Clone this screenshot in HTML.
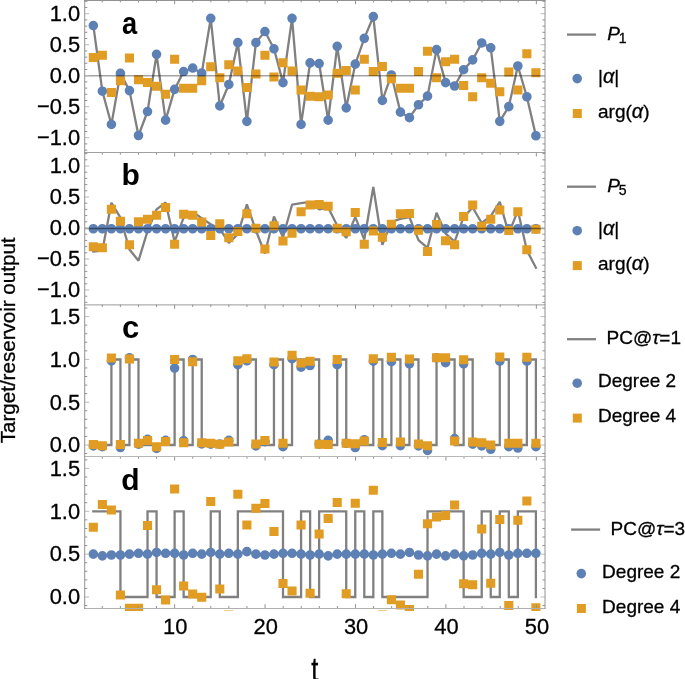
<!DOCTYPE html><html><head><meta charset="utf-8"><style>html,body{margin:0;padding:0;background:#fff;width:685px;height:679px;overflow:hidden}svg{display:block;will-change:transform}</style></head><body><svg width="685" height="679" viewBox="0 0 685 679">
<style>text{font-family:"Liberation Sans",sans-serif;fill:#000;stroke:#000;stroke-width:0.3px}.pl{stroke-width:0}.tl{font-size:22.9px}.lg{font-size:19px}.pl{font-size:31px;font-weight:bold}</style>
<rect width="685" height="679" fill="#fff"/>
<clipPath id="ca"><rect x="84.5" y="-2.50" width="461" height="157.30"/></clipPath>
<g clip-path="url(#ca)">
<polyline points="93.33,25.54 102.36,91.22 111.40,124.44 120.43,73.39 129.46,90.61 138.49,135.50 147.52,111.52 156.56,54.32 165.59,120.13 174.62,89.38 183.65,71.54 192.68,68.04 201.72,73.14 210.75,18.35 219.78,105.98 228.81,84.46 237.84,42.64 246.88,121.36 255.91,42.64 264.94,31.57 273.97,48.79 283.00,82.61 292.04,18.35 301.07,124.44 310.10,62.93 319.13,63.55 328.16,120.13 337.20,46.33 346.23,107.83 355.26,64.16 364.29,38.33 373.32,16.56 382.36,100.45 391.39,74.93 400.42,112.13 409.45,117.67 418.48,104.75 427.52,96.14 436.55,49.65 445.58,82.61 454.61,86.00 463.64,69.70 472.68,59.86 481.71,42.95 490.74,47.87 499.77,121.36 508.80,106.60 517.84,66.01 526.87,96.76 535.90,135.75" fill="none" stroke="#808080" stroke-width="2.3" stroke-linejoin="bevel" stroke-linecap="square" />
<path d="M88.53,25.54a4.80,4.80 0 1,0 9.60,0a4.80,4.80 0 1,0 -9.60,0ZM97.56,91.22a4.80,4.80 0 1,0 9.60,0a4.80,4.80 0 1,0 -9.60,0ZM106.60,124.44a4.80,4.80 0 1,0 9.60,0a4.80,4.80 0 1,0 -9.60,0ZM115.63,73.39a4.80,4.80 0 1,0 9.60,0a4.80,4.80 0 1,0 -9.60,0ZM124.66,90.61a4.80,4.80 0 1,0 9.60,0a4.80,4.80 0 1,0 -9.60,0ZM133.69,135.50a4.80,4.80 0 1,0 9.60,0a4.80,4.80 0 1,0 -9.60,0ZM142.72,111.52a4.80,4.80 0 1,0 9.60,0a4.80,4.80 0 1,0 -9.60,0ZM151.76,54.32a4.80,4.80 0 1,0 9.60,0a4.80,4.80 0 1,0 -9.60,0ZM160.79,120.13a4.80,4.80 0 1,0 9.60,0a4.80,4.80 0 1,0 -9.60,0ZM169.82,89.38a4.80,4.80 0 1,0 9.60,0a4.80,4.80 0 1,0 -9.60,0ZM178.85,71.54a4.80,4.80 0 1,0 9.60,0a4.80,4.80 0 1,0 -9.60,0ZM187.88,68.04a4.80,4.80 0 1,0 9.60,0a4.80,4.80 0 1,0 -9.60,0ZM196.92,73.14a4.80,4.80 0 1,0 9.60,0a4.80,4.80 0 1,0 -9.60,0ZM205.95,18.35a4.80,4.80 0 1,0 9.60,0a4.80,4.80 0 1,0 -9.60,0ZM214.98,105.98a4.80,4.80 0 1,0 9.60,0a4.80,4.80 0 1,0 -9.60,0ZM224.01,84.46a4.80,4.80 0 1,0 9.60,0a4.80,4.80 0 1,0 -9.60,0ZM233.04,42.64a4.80,4.80 0 1,0 9.60,0a4.80,4.80 0 1,0 -9.60,0ZM242.08,121.36a4.80,4.80 0 1,0 9.60,0a4.80,4.80 0 1,0 -9.60,0ZM251.11,42.64a4.80,4.80 0 1,0 9.60,0a4.80,4.80 0 1,0 -9.60,0ZM260.14,31.57a4.80,4.80 0 1,0 9.60,0a4.80,4.80 0 1,0 -9.60,0ZM269.17,48.79a4.80,4.80 0 1,0 9.60,0a4.80,4.80 0 1,0 -9.60,0ZM278.20,82.61a4.80,4.80 0 1,0 9.60,0a4.80,4.80 0 1,0 -9.60,0ZM287.24,18.35a4.80,4.80 0 1,0 9.60,0a4.80,4.80 0 1,0 -9.60,0ZM296.27,124.44a4.80,4.80 0 1,0 9.60,0a4.80,4.80 0 1,0 -9.60,0ZM305.30,62.93a4.80,4.80 0 1,0 9.60,0a4.80,4.80 0 1,0 -9.60,0ZM314.33,63.55a4.80,4.80 0 1,0 9.60,0a4.80,4.80 0 1,0 -9.60,0ZM323.36,120.13a4.80,4.80 0 1,0 9.60,0a4.80,4.80 0 1,0 -9.60,0ZM332.40,46.33a4.80,4.80 0 1,0 9.60,0a4.80,4.80 0 1,0 -9.60,0ZM341.43,107.83a4.80,4.80 0 1,0 9.60,0a4.80,4.80 0 1,0 -9.60,0ZM350.46,64.16a4.80,4.80 0 1,0 9.60,0a4.80,4.80 0 1,0 -9.60,0ZM359.49,38.33a4.80,4.80 0 1,0 9.60,0a4.80,4.80 0 1,0 -9.60,0ZM368.52,16.56a4.80,4.80 0 1,0 9.60,0a4.80,4.80 0 1,0 -9.60,0ZM377.56,100.45a4.80,4.80 0 1,0 9.60,0a4.80,4.80 0 1,0 -9.60,0ZM386.59,74.93a4.80,4.80 0 1,0 9.60,0a4.80,4.80 0 1,0 -9.60,0ZM395.62,112.13a4.80,4.80 0 1,0 9.60,0a4.80,4.80 0 1,0 -9.60,0ZM404.65,117.67a4.80,4.80 0 1,0 9.60,0a4.80,4.80 0 1,0 -9.60,0ZM413.68,104.75a4.80,4.80 0 1,0 9.60,0a4.80,4.80 0 1,0 -9.60,0ZM422.72,96.14a4.80,4.80 0 1,0 9.60,0a4.80,4.80 0 1,0 -9.60,0ZM431.75,49.65a4.80,4.80 0 1,0 9.60,0a4.80,4.80 0 1,0 -9.60,0ZM440.78,82.61a4.80,4.80 0 1,0 9.60,0a4.80,4.80 0 1,0 -9.60,0ZM449.81,86.00a4.80,4.80 0 1,0 9.60,0a4.80,4.80 0 1,0 -9.60,0ZM458.84,69.70a4.80,4.80 0 1,0 9.60,0a4.80,4.80 0 1,0 -9.60,0ZM467.88,59.86a4.80,4.80 0 1,0 9.60,0a4.80,4.80 0 1,0 -9.60,0ZM476.91,42.95a4.80,4.80 0 1,0 9.60,0a4.80,4.80 0 1,0 -9.60,0ZM485.94,47.87a4.80,4.80 0 1,0 9.60,0a4.80,4.80 0 1,0 -9.60,0ZM494.97,121.36a4.80,4.80 0 1,0 9.60,0a4.80,4.80 0 1,0 -9.60,0ZM504.00,106.60a4.80,4.80 0 1,0 9.60,0a4.80,4.80 0 1,0 -9.60,0ZM513.04,66.01a4.80,4.80 0 1,0 9.60,0a4.80,4.80 0 1,0 -9.60,0ZM522.07,96.76a4.80,4.80 0 1,0 9.60,0a4.80,4.80 0 1,0 -9.60,0ZM531.10,135.75a4.80,4.80 0 1,0 9.60,0a4.80,4.80 0 1,0 -9.60,0Z" fill="#5e81b5"/>
<path d="M88.77,52.90h9.12v9.00h-9.12ZM97.80,50.75h9.12v9.00h-9.12ZM106.84,87.95h9.12v9.00h-9.12ZM115.87,76.27h9.12v9.00h-9.12ZM124.90,53.52h9.12v9.00h-9.12ZM133.93,75.35h9.12v9.00h-9.12ZM142.96,78.11h9.12v9.00h-9.12ZM152.00,81.80h9.12v9.00h-9.12ZM161.03,89.80h9.12v9.00h-9.12ZM170.06,54.74h9.12v9.00h-9.12ZM179.09,83.65h9.12v9.00h-9.12ZM188.12,83.65h9.12v9.00h-9.12ZM197.16,76.27h9.12v9.00h-9.12ZM206.19,62.37h9.12v9.00h-9.12ZM215.22,73.19h9.12v9.00h-9.12ZM224.25,60.28h9.12v9.00h-9.12ZM233.28,66.43h9.12v9.00h-9.12ZM242.32,83.03h9.12v9.00h-9.12ZM251.35,69.50h9.12v9.00h-9.12ZM260.38,50.75h9.12v9.00h-9.12ZM269.41,72.58h9.12v9.00h-9.12ZM278.44,58.13h9.12v9.00h-9.12ZM287.48,66.43h9.12v9.00h-9.12ZM296.51,85.49h9.12v9.00h-9.12ZM305.54,91.64h9.12v9.00h-9.12ZM314.57,92.26h9.12v9.00h-9.12ZM323.60,90.41h9.12v9.00h-9.12ZM332.64,68.64h9.12v9.00h-9.12ZM341.67,65.94h9.12v9.00h-9.12ZM350.70,85.49h9.12v9.00h-9.12ZM359.73,54.74h9.12v9.00h-9.12ZM368.76,67.04h9.12v9.00h-9.12ZM377.80,61.94h9.12v9.00h-9.12ZM386.83,74.24h9.12v9.00h-9.12ZM395.86,83.65h9.12v9.00h-9.12ZM404.89,83.65h9.12v9.00h-9.12ZM413.92,67.04h9.12v9.00h-9.12ZM422.96,46.75h9.12v9.00h-9.12ZM431.99,73.19h9.12v9.00h-9.12ZM441.02,57.20h9.12v9.00h-9.12ZM450.05,54.74h9.12v9.00h-9.12ZM459.08,80.94h9.12v9.00h-9.12ZM468.12,92.26h9.12v9.00h-9.12ZM477.15,73.19h9.12v9.00h-9.12ZM486.18,78.73h9.12v9.00h-9.12ZM495.21,87.34h9.12v9.00h-9.12ZM504.24,67.54h9.12v9.00h-9.12ZM513.28,85.49h9.12v9.00h-9.12ZM522.31,49.21h9.12v9.00h-9.12ZM531.34,68.27h9.12v9.00h-9.12Z" fill="#e19c24"/>
<line x1="84.5" y1="75.85" x2="545" y2="75.85" stroke="#000" stroke-opacity="0.36" stroke-width="1.5"/>
</g>
<clipPath id="cb"><rect x="84.5" y="149.80" width="461" height="157.30"/></clipPath>
<g clip-path="url(#cb)">
<polyline points="93.33,251.47 102.36,250.67 111.40,202.73 120.43,217.69 129.46,249.49 138.49,260.73 147.52,231.10 156.56,209.37 165.59,202.54 174.62,241.66 183.65,217.69 192.68,211.85 201.72,218.31 210.75,224.27 219.78,228.62 228.81,242.90 237.84,234.21 246.88,204.40 255.91,230.48 264.94,253.46 273.97,216.51 283.00,237.31 292.04,204.71 301.07,203.16 310.10,201.92 319.13,209.37 328.16,207.51 337.20,225.52 346.23,237.94 355.26,217.13 364.29,239.49 373.32,187.01 382.36,244.77 391.39,221.79 400.42,218.87 409.45,217.13 418.48,240.11 427.52,247.87 436.55,212.79 445.58,233.59 454.61,241.66 463.64,217.13 472.68,207.51 481.71,223.03 490.74,216.20 499.77,201.92 508.80,233.59 517.84,210.61 526.87,250.36 535.90,267.74" fill="none" stroke="#808080" stroke-width="2.3" stroke-linejoin="bevel" stroke-linecap="square" />
<path d="M88.53,228.75a4.80,4.80 0 1,0 9.60,0a4.80,4.80 0 1,0 -9.60,0ZM97.56,228.75a4.80,4.80 0 1,0 9.60,0a4.80,4.80 0 1,0 -9.60,0ZM106.60,228.75a4.80,4.80 0 1,0 9.60,0a4.80,4.80 0 1,0 -9.60,0ZM115.63,228.75a4.80,4.80 0 1,0 9.60,0a4.80,4.80 0 1,0 -9.60,0ZM124.66,228.75a4.80,4.80 0 1,0 9.60,0a4.80,4.80 0 1,0 -9.60,0ZM133.69,228.75a4.80,4.80 0 1,0 9.60,0a4.80,4.80 0 1,0 -9.60,0ZM142.72,228.75a4.80,4.80 0 1,0 9.60,0a4.80,4.80 0 1,0 -9.60,0ZM151.76,228.75a4.80,4.80 0 1,0 9.60,0a4.80,4.80 0 1,0 -9.60,0ZM160.79,228.75a4.80,4.80 0 1,0 9.60,0a4.80,4.80 0 1,0 -9.60,0ZM169.82,228.75a4.80,4.80 0 1,0 9.60,0a4.80,4.80 0 1,0 -9.60,0ZM178.85,228.75a4.80,4.80 0 1,0 9.60,0a4.80,4.80 0 1,0 -9.60,0ZM187.88,228.75a4.80,4.80 0 1,0 9.60,0a4.80,4.80 0 1,0 -9.60,0ZM196.92,228.75a4.80,4.80 0 1,0 9.60,0a4.80,4.80 0 1,0 -9.60,0ZM205.95,228.75a4.80,4.80 0 1,0 9.60,0a4.80,4.80 0 1,0 -9.60,0ZM214.98,228.75a4.80,4.80 0 1,0 9.60,0a4.80,4.80 0 1,0 -9.60,0ZM224.01,228.75a4.80,4.80 0 1,0 9.60,0a4.80,4.80 0 1,0 -9.60,0ZM233.04,228.75a4.80,4.80 0 1,0 9.60,0a4.80,4.80 0 1,0 -9.60,0ZM242.08,228.75a4.80,4.80 0 1,0 9.60,0a4.80,4.80 0 1,0 -9.60,0ZM251.11,228.75a4.80,4.80 0 1,0 9.60,0a4.80,4.80 0 1,0 -9.60,0ZM260.14,228.75a4.80,4.80 0 1,0 9.60,0a4.80,4.80 0 1,0 -9.60,0ZM269.17,228.75a4.80,4.80 0 1,0 9.60,0a4.80,4.80 0 1,0 -9.60,0ZM278.20,228.75a4.80,4.80 0 1,0 9.60,0a4.80,4.80 0 1,0 -9.60,0ZM287.24,228.75a4.80,4.80 0 1,0 9.60,0a4.80,4.80 0 1,0 -9.60,0ZM296.27,228.75a4.80,4.80 0 1,0 9.60,0a4.80,4.80 0 1,0 -9.60,0ZM305.30,228.75a4.80,4.80 0 1,0 9.60,0a4.80,4.80 0 1,0 -9.60,0ZM314.33,228.75a4.80,4.80 0 1,0 9.60,0a4.80,4.80 0 1,0 -9.60,0ZM323.36,228.75a4.80,4.80 0 1,0 9.60,0a4.80,4.80 0 1,0 -9.60,0ZM332.40,228.75a4.80,4.80 0 1,0 9.60,0a4.80,4.80 0 1,0 -9.60,0ZM341.43,228.75a4.80,4.80 0 1,0 9.60,0a4.80,4.80 0 1,0 -9.60,0ZM350.46,228.75a4.80,4.80 0 1,0 9.60,0a4.80,4.80 0 1,0 -9.60,0ZM359.49,228.75a4.80,4.80 0 1,0 9.60,0a4.80,4.80 0 1,0 -9.60,0ZM368.52,228.75a4.80,4.80 0 1,0 9.60,0a4.80,4.80 0 1,0 -9.60,0ZM377.56,228.75a4.80,4.80 0 1,0 9.60,0a4.80,4.80 0 1,0 -9.60,0ZM386.59,228.75a4.80,4.80 0 1,0 9.60,0a4.80,4.80 0 1,0 -9.60,0ZM395.62,228.75a4.80,4.80 0 1,0 9.60,0a4.80,4.80 0 1,0 -9.60,0ZM404.65,228.75a4.80,4.80 0 1,0 9.60,0a4.80,4.80 0 1,0 -9.60,0ZM413.68,228.75a4.80,4.80 0 1,0 9.60,0a4.80,4.80 0 1,0 -9.60,0ZM422.72,228.75a4.80,4.80 0 1,0 9.60,0a4.80,4.80 0 1,0 -9.60,0ZM431.75,228.75a4.80,4.80 0 1,0 9.60,0a4.80,4.80 0 1,0 -9.60,0ZM440.78,228.75a4.80,4.80 0 1,0 9.60,0a4.80,4.80 0 1,0 -9.60,0ZM449.81,228.75a4.80,4.80 0 1,0 9.60,0a4.80,4.80 0 1,0 -9.60,0ZM458.84,228.75a4.80,4.80 0 1,0 9.60,0a4.80,4.80 0 1,0 -9.60,0ZM467.88,228.75a4.80,4.80 0 1,0 9.60,0a4.80,4.80 0 1,0 -9.60,0ZM476.91,228.75a4.80,4.80 0 1,0 9.60,0a4.80,4.80 0 1,0 -9.60,0ZM485.94,228.75a4.80,4.80 0 1,0 9.60,0a4.80,4.80 0 1,0 -9.60,0ZM494.97,228.75a4.80,4.80 0 1,0 9.60,0a4.80,4.80 0 1,0 -9.60,0ZM504.00,228.75a4.80,4.80 0 1,0 9.60,0a4.80,4.80 0 1,0 -9.60,0ZM513.04,228.75a4.80,4.80 0 1,0 9.60,0a4.80,4.80 0 1,0 -9.60,0ZM522.07,228.75a4.80,4.80 0 1,0 9.60,0a4.80,4.80 0 1,0 -9.60,0ZM531.10,228.75a4.80,4.80 0 1,0 9.60,0a4.80,4.80 0 1,0 -9.60,0Z" fill="#5e81b5"/>
<path d="M88.77,242.13h9.12v9.00h-9.12ZM97.80,243.37h9.12v9.00h-9.12ZM106.84,204.87h9.12v9.00h-9.12ZM115.87,216.67h9.12v9.00h-9.12ZM124.90,240.27h9.12v9.00h-9.12ZM133.93,217.29h9.12v9.00h-9.12ZM142.96,214.81h9.12v9.00h-9.12ZM152.00,210.77h9.12v9.00h-9.12ZM161.03,203.01h9.12v9.00h-9.12ZM170.06,239.65h9.12v9.00h-9.12ZM179.09,209.84h9.12v9.00h-9.12ZM188.12,210.77h9.12v9.00h-9.12ZM197.16,217.48h9.12v9.00h-9.12ZM206.19,230.95h9.12v9.00h-9.12ZM215.22,219.15h9.12v9.00h-9.12ZM224.25,233.25h9.12v9.00h-9.12ZM233.28,227.10h9.12v9.00h-9.12ZM242.32,209.22h9.12v9.00h-9.12ZM251.35,223.81h9.12v9.00h-9.12ZM260.38,244.61h9.12v9.00h-9.12ZM269.41,221.20h9.12v9.00h-9.12ZM278.44,236.54h9.12v9.00h-9.12ZM287.48,228.78h9.12v9.00h-9.12ZM296.51,207.35h9.12v9.00h-9.12ZM305.54,200.52h9.12v9.00h-9.12ZM314.57,199.90h9.12v9.00h-9.12ZM323.60,201.76h9.12v9.00h-9.12ZM332.64,223.81h9.12v9.00h-9.12ZM341.67,227.23h9.12v9.00h-9.12ZM350.70,207.97h9.12v9.00h-9.12ZM359.73,239.65h9.12v9.00h-9.12ZM368.76,226.60h9.12v9.00h-9.12ZM377.80,232.81h9.12v9.00h-9.12ZM386.83,219.77h9.12v9.00h-9.12ZM395.86,209.22h9.12v9.00h-9.12ZM404.89,208.91h9.12v9.00h-9.12ZM413.92,225.67h9.12v9.00h-9.12ZM422.96,247.10h9.12v9.00h-9.12ZM431.99,220.08h9.12v9.00h-9.12ZM441.02,236.23h9.12v9.00h-9.12ZM450.05,240.27h9.12v9.00h-9.12ZM459.08,212.01h9.12v9.00h-9.12ZM468.12,200.52h9.12v9.00h-9.12ZM477.15,221.64h9.12v9.00h-9.12ZM486.18,214.81h9.12v9.00h-9.12ZM495.21,205.49h9.12v9.00h-9.12ZM504.24,225.98h9.12v9.00h-9.12ZM513.28,207.35h9.12v9.00h-9.12ZM522.31,245.24h9.12v9.00h-9.12ZM531.34,224.74h9.12v9.00h-9.12Z" fill="#e19c24"/>
<line x1="84.5" y1="228.4" x2="545" y2="228.4" stroke="#000" stroke-opacity="0.45" stroke-width="1.5"/>
</g>
<clipPath id="cc"><rect x="84.5" y="302.10" width="461" height="156.70"/></clipPath>
<g clip-path="url(#cc)">
<path d="M93.33,445.00 H102.36 V445.00 H111.40 V359.50 H120.43 V445.00 H129.46 V359.50 H138.49 V445.00 H147.52 V445.00 H156.56 V445.00 H165.59 V445.00 H174.62 V359.50 H183.65 V445.00 H192.68 V359.50 H201.72 V445.00 H210.75 V445.00 H219.78 V445.00 H228.81 V445.00 H237.84 V359.50 H246.88 V359.50 H255.91 V445.00 H264.94 V445.00 H273.97 V359.50 H283.00 V445.00 H292.04 V359.50 H301.07 V359.50 H310.10 V359.50 H319.13 V445.00 H328.16 V445.00 H337.20 V359.50 H346.23 V445.00 H355.26 V445.00 H364.29 V445.00 H373.32 V359.50 H382.36 V445.00 H391.39 V359.50 H400.42 V445.00 H409.45 V359.50 H418.48 V445.00 H427.52 V445.00 H436.55 V359.50 H445.58 V359.50 H454.61 V445.00 H463.64 V359.50 H472.68 V445.00 H481.71 V445.00 H490.74 V445.00 H499.77 V359.50 H508.80 V445.00 H517.84 V445.00 H526.87 V359.50 H535.90 V445.00" fill="none" stroke="#808080" stroke-width="2.3" stroke-linecap="square"/>
<path d="M88.53,445.86a4.80,4.80 0 1,0 9.60,0a4.80,4.80 0 1,0 -9.60,0ZM97.56,446.71a4.80,4.80 0 1,0 9.60,0a4.80,4.80 0 1,0 -9.60,0ZM106.60,360.78a4.80,4.80 0 1,0 9.60,0a4.80,4.80 0 1,0 -9.60,0ZM115.63,447.56a4.80,4.80 0 1,0 9.60,0a4.80,4.80 0 1,0 -9.60,0ZM124.66,357.79a4.80,4.80 0 1,0 9.60,0a4.80,4.80 0 1,0 -9.60,0ZM133.69,444.14a4.80,4.80 0 1,0 9.60,0a4.80,4.80 0 1,0 -9.60,0ZM142.72,439.27a4.80,4.80 0 1,0 9.60,0a4.80,4.80 0 1,0 -9.60,0ZM151.76,448.42a4.80,4.80 0 1,0 9.60,0a4.80,4.80 0 1,0 -9.60,0ZM160.79,440.38a4.80,4.80 0 1,0 9.60,0a4.80,4.80 0 1,0 -9.60,0ZM169.82,368.05a4.80,4.80 0 1,0 9.60,0a4.80,4.80 0 1,0 -9.60,0ZM178.85,440.73a4.80,4.80 0 1,0 9.60,0a4.80,4.80 0 1,0 -9.60,0ZM187.88,359.50a4.80,4.80 0 1,0 9.60,0a4.80,4.80 0 1,0 -9.60,0ZM196.92,443.89a4.80,4.80 0 1,0 9.60,0a4.80,4.80 0 1,0 -9.60,0ZM205.95,444.14a4.80,4.80 0 1,0 9.60,0a4.80,4.80 0 1,0 -9.60,0ZM214.98,444.14a4.80,4.80 0 1,0 9.60,0a4.80,4.80 0 1,0 -9.60,0ZM224.01,440.38a4.80,4.80 0 1,0 9.60,0a4.80,4.80 0 1,0 -9.60,0ZM233.04,364.63a4.80,4.80 0 1,0 9.60,0a4.80,4.80 0 1,0 -9.60,0ZM242.08,360.78a4.80,4.80 0 1,0 9.60,0a4.80,4.80 0 1,0 -9.60,0ZM251.11,445.86a4.80,4.80 0 1,0 9.60,0a4.80,4.80 0 1,0 -9.60,0ZM260.14,441.58a4.80,4.80 0 1,0 9.60,0a4.80,4.80 0 1,0 -9.60,0ZM269.17,364.63a4.80,4.80 0 1,0 9.60,0a4.80,4.80 0 1,0 -9.60,0ZM278.20,446.71a4.80,4.80 0 1,0 9.60,0a4.80,4.80 0 1,0 -9.60,0ZM287.24,358.64a4.80,4.80 0 1,0 9.60,0a4.80,4.80 0 1,0 -9.60,0ZM296.27,367.19a4.80,4.80 0 1,0 9.60,0a4.80,4.80 0 1,0 -9.60,0ZM305.30,365.49a4.80,4.80 0 1,0 9.60,0a4.80,4.80 0 1,0 -9.60,0ZM314.33,444.14a4.80,4.80 0 1,0 9.60,0a4.80,4.80 0 1,0 -9.60,0ZM323.36,440.38a4.80,4.80 0 1,0 9.60,0a4.80,4.80 0 1,0 -9.60,0ZM332.40,364.63a4.80,4.80 0 1,0 9.60,0a4.80,4.80 0 1,0 -9.60,0ZM341.43,443.29a4.80,4.80 0 1,0 9.60,0a4.80,4.80 0 1,0 -9.60,0ZM350.46,447.56a4.80,4.80 0 1,0 9.60,0a4.80,4.80 0 1,0 -9.60,0ZM359.49,439.87a4.80,4.80 0 1,0 9.60,0a4.80,4.80 0 1,0 -9.60,0ZM368.52,361.21a4.80,4.80 0 1,0 9.60,0a4.80,4.80 0 1,0 -9.60,0ZM377.56,445.68a4.80,4.80 0 1,0 9.60,0a4.80,4.80 0 1,0 -9.60,0ZM386.59,361.64a4.80,4.80 0 1,0 9.60,0a4.80,4.80 0 1,0 -9.60,0ZM395.62,445.68a4.80,4.80 0 1,0 9.60,0a4.80,4.80 0 1,0 -9.60,0ZM404.65,363.77a4.80,4.80 0 1,0 9.60,0a4.80,4.80 0 1,0 -9.60,0ZM413.68,445.86a4.80,4.80 0 1,0 9.60,0a4.80,4.80 0 1,0 -9.60,0ZM422.72,450.39a4.80,4.80 0 1,0 9.60,0a4.80,4.80 0 1,0 -9.60,0ZM431.75,357.79a4.80,4.80 0 1,0 9.60,0a4.80,4.80 0 1,0 -9.60,0ZM440.78,362.66a4.80,4.80 0 1,0 9.60,0a4.80,4.80 0 1,0 -9.60,0ZM449.81,438.59a4.80,4.80 0 1,0 9.60,0a4.80,4.80 0 1,0 -9.60,0ZM458.84,363.77a4.80,4.80 0 1,0 9.60,0a4.80,4.80 0 1,0 -9.60,0ZM467.88,444.14a4.80,4.80 0 1,0 9.60,0a4.80,4.80 0 1,0 -9.60,0ZM476.91,445.86a4.80,4.80 0 1,0 9.60,0a4.80,4.80 0 1,0 -9.60,0ZM485.94,449.27a4.80,4.80 0 1,0 9.60,0a4.80,4.80 0 1,0 -9.60,0ZM494.97,361.21a4.80,4.80 0 1,0 9.60,0a4.80,4.80 0 1,0 -9.60,0ZM504.00,446.71a4.80,4.80 0 1,0 9.60,0a4.80,4.80 0 1,0 -9.60,0ZM513.04,447.99a4.80,4.80 0 1,0 9.60,0a4.80,4.80 0 1,0 -9.60,0ZM522.07,361.21a4.80,4.80 0 1,0 9.60,0a4.80,4.80 0 1,0 -9.60,0ZM531.10,446.71a4.80,4.80 0 1,0 9.60,0a4.80,4.80 0 1,0 -9.60,0Z" fill="#5e81b5"/>
<path d="M88.77,440.07h9.12v9.00h-9.12ZM97.80,441.18h9.12v9.00h-9.12ZM106.84,353.55h9.12v9.00h-9.12ZM115.87,440.07h9.12v9.00h-9.12ZM124.90,354.57h9.12v9.00h-9.12ZM133.93,438.79h9.12v9.00h-9.12ZM142.96,435.88h9.12v9.00h-9.12ZM152.00,442.21h9.12v9.00h-9.12ZM161.03,437.08h9.12v9.00h-9.12ZM170.06,355.00h9.12v9.00h-9.12ZM179.09,438.28h9.12v9.00h-9.12ZM188.12,357.14h9.12v9.00h-9.12ZM197.16,438.28h9.12v9.00h-9.12ZM206.19,438.79h9.12v9.00h-9.12ZM215.22,439.64h9.12v9.00h-9.12ZM224.25,437.59h9.12v9.00h-9.12ZM233.28,356.28h9.12v9.00h-9.12ZM242.32,354.14h9.12v9.00h-9.12ZM251.35,439.39h9.12v9.00h-9.12ZM260.38,435.88h9.12v9.00h-9.12ZM269.41,357.56h9.12v9.00h-9.12ZM278.44,438.79h9.12v9.00h-9.12ZM287.48,350.73h9.12v9.00h-9.12ZM296.51,358.42h9.12v9.00h-9.12ZM305.54,356.71h9.12v9.00h-9.12ZM314.57,439.64h9.12v9.00h-9.12ZM323.60,440.07h9.12v9.00h-9.12ZM332.64,355.00h9.12v9.00h-9.12ZM341.67,438.79h9.12v9.00h-9.12ZM350.70,439.22h9.12v9.00h-9.12ZM359.73,436.57h9.12v9.00h-9.12ZM368.76,354.14h9.12v9.00h-9.12ZM377.80,437.94h9.12v9.00h-9.12ZM386.83,352.78h9.12v9.00h-9.12ZM395.86,437.59h9.12v9.00h-9.12ZM404.89,354.57h9.12v9.00h-9.12ZM413.92,439.39h9.12v9.00h-9.12ZM422.96,441.18h9.12v9.00h-9.12ZM431.99,353.29h9.12v9.00h-9.12ZM441.02,353.29h9.12v9.00h-9.12ZM450.05,436.57h9.12v9.00h-9.12ZM459.08,355.26h9.12v9.00h-9.12ZM468.12,437.59h9.12v9.00h-9.12ZM477.15,438.28h9.12v9.00h-9.12ZM486.18,440.50h9.12v9.00h-9.12ZM495.21,352.44h9.12v9.00h-9.12ZM504.24,438.79h9.12v9.00h-9.12ZM513.28,438.79h9.12v9.00h-9.12ZM522.31,352.78h9.12v9.00h-9.12ZM531.34,438.79h9.12v9.00h-9.12Z" fill="#e19c24"/>
</g>
<clipPath id="cd"><rect x="84.5" y="453.80" width="461" height="157.10"/></clipPath>
<g clip-path="url(#cd)">
<path d="M93.33,511.30 H102.36 V511.30 H111.40 V511.30 H120.43 V597.00 H129.46 V597.00 H138.49 V597.00 H147.52 V511.30 H156.56 V597.00 H165.59 V597.00 H174.62 V511.30 H183.65 V597.00 H192.68 V597.00 H201.72 V597.00 H210.75 V511.30 H219.78 V597.00 H228.81 V597.00 H237.84 V511.30 H246.88 V511.30 H255.91 V511.30 H264.94 V511.30 H273.97 V511.30 H283.00 V597.00 H292.04 V597.00 H301.07 V511.30 H310.10 V597.00 H319.13 V511.30 H328.16 V511.30 H337.20 V511.30 H346.23 V597.00 H355.26 V511.30 H364.29 V597.00 H373.32 V511.30 H382.36 V597.00 H391.39 V597.00 H400.42 V597.00 H409.45 V597.00 H418.48 V597.00 H427.52 V511.30 H436.55 V511.30 H445.58 V511.30 H454.61 V511.30 H463.64 V597.00 H472.68 V597.00 H481.71 V511.30 H490.74 V597.00 H499.77 V511.30 H508.80 V597.00 H517.84 V511.30 H526.87 V511.30 H535.90 V597.00" fill="none" stroke="#808080" stroke-width="2.3" stroke-linecap="square"/>
<path d="M88.53,554.15a4.80,4.80 0 1,0 9.60,0a4.80,4.80 0 1,0 -9.60,0ZM97.56,555.86a4.80,4.80 0 1,0 9.60,0a4.80,4.80 0 1,0 -9.60,0ZM106.60,555.01a4.80,4.80 0 1,0 9.60,0a4.80,4.80 0 1,0 -9.60,0ZM115.63,555.01a4.80,4.80 0 1,0 9.60,0a4.80,4.80 0 1,0 -9.60,0ZM124.66,554.15a4.80,4.80 0 1,0 9.60,0a4.80,4.80 0 1,0 -9.60,0ZM133.69,553.29a4.80,4.80 0 1,0 9.60,0a4.80,4.80 0 1,0 -9.60,0ZM142.72,554.15a4.80,4.80 0 1,0 9.60,0a4.80,4.80 0 1,0 -9.60,0ZM151.76,552.44a4.80,4.80 0 1,0 9.60,0a4.80,4.80 0 1,0 -9.60,0ZM160.79,553.29a4.80,4.80 0 1,0 9.60,0a4.80,4.80 0 1,0 -9.60,0ZM169.82,553.29a4.80,4.80 0 1,0 9.60,0a4.80,4.80 0 1,0 -9.60,0ZM178.85,555.01a4.80,4.80 0 1,0 9.60,0a4.80,4.80 0 1,0 -9.60,0ZM187.88,553.29a4.80,4.80 0 1,0 9.60,0a4.80,4.80 0 1,0 -9.60,0ZM196.92,554.15a4.80,4.80 0 1,0 9.60,0a4.80,4.80 0 1,0 -9.60,0ZM205.95,552.44a4.80,4.80 0 1,0 9.60,0a4.80,4.80 0 1,0 -9.60,0ZM214.98,554.15a4.80,4.80 0 1,0 9.60,0a4.80,4.80 0 1,0 -9.60,0ZM224.01,553.29a4.80,4.80 0 1,0 9.60,0a4.80,4.80 0 1,0 -9.60,0ZM233.04,554.15a4.80,4.80 0 1,0 9.60,0a4.80,4.80 0 1,0 -9.60,0ZM242.08,551.58a4.80,4.80 0 1,0 9.60,0a4.80,4.80 0 1,0 -9.60,0ZM251.11,554.15a4.80,4.80 0 1,0 9.60,0a4.80,4.80 0 1,0 -9.60,0ZM260.14,555.01a4.80,4.80 0 1,0 9.60,0a4.80,4.80 0 1,0 -9.60,0ZM269.17,554.15a4.80,4.80 0 1,0 9.60,0a4.80,4.80 0 1,0 -9.60,0ZM278.20,553.29a4.80,4.80 0 1,0 9.60,0a4.80,4.80 0 1,0 -9.60,0ZM287.24,553.29a4.80,4.80 0 1,0 9.60,0a4.80,4.80 0 1,0 -9.60,0ZM296.27,554.15a4.80,4.80 0 1,0 9.60,0a4.80,4.80 0 1,0 -9.60,0ZM305.30,555.01a4.80,4.80 0 1,0 9.60,0a4.80,4.80 0 1,0 -9.60,0ZM314.33,554.15a4.80,4.80 0 1,0 9.60,0a4.80,4.80 0 1,0 -9.60,0ZM323.36,555.86a4.80,4.80 0 1,0 9.60,0a4.80,4.80 0 1,0 -9.60,0ZM332.40,554.15a4.80,4.80 0 1,0 9.60,0a4.80,4.80 0 1,0 -9.60,0ZM341.43,554.15a4.80,4.80 0 1,0 9.60,0a4.80,4.80 0 1,0 -9.60,0ZM350.46,554.15a4.80,4.80 0 1,0 9.60,0a4.80,4.80 0 1,0 -9.60,0ZM359.49,554.15a4.80,4.80 0 1,0 9.60,0a4.80,4.80 0 1,0 -9.60,0ZM368.52,555.01a4.80,4.80 0 1,0 9.60,0a4.80,4.80 0 1,0 -9.60,0ZM377.56,554.15a4.80,4.80 0 1,0 9.60,0a4.80,4.80 0 1,0 -9.60,0ZM386.59,553.29a4.80,4.80 0 1,0 9.60,0a4.80,4.80 0 1,0 -9.60,0ZM395.62,554.15a4.80,4.80 0 1,0 9.60,0a4.80,4.80 0 1,0 -9.60,0ZM404.65,552.44a4.80,4.80 0 1,0 9.60,0a4.80,4.80 0 1,0 -9.60,0ZM413.68,555.01a4.80,4.80 0 1,0 9.60,0a4.80,4.80 0 1,0 -9.60,0ZM422.72,555.86a4.80,4.80 0 1,0 9.60,0a4.80,4.80 0 1,0 -9.60,0ZM431.75,554.15a4.80,4.80 0 1,0 9.60,0a4.80,4.80 0 1,0 -9.60,0ZM440.78,555.86a4.80,4.80 0 1,0 9.60,0a4.80,4.80 0 1,0 -9.60,0ZM449.81,554.15a4.80,4.80 0 1,0 9.60,0a4.80,4.80 0 1,0 -9.60,0ZM458.84,555.86a4.80,4.80 0 1,0 9.60,0a4.80,4.80 0 1,0 -9.60,0ZM467.88,555.01a4.80,4.80 0 1,0 9.60,0a4.80,4.80 0 1,0 -9.60,0ZM476.91,553.29a4.80,4.80 0 1,0 9.60,0a4.80,4.80 0 1,0 -9.60,0ZM485.94,554.15a4.80,4.80 0 1,0 9.60,0a4.80,4.80 0 1,0 -9.60,0ZM494.97,552.44a4.80,4.80 0 1,0 9.60,0a4.80,4.80 0 1,0 -9.60,0ZM504.00,555.01a4.80,4.80 0 1,0 9.60,0a4.80,4.80 0 1,0 -9.60,0ZM513.04,553.29a4.80,4.80 0 1,0 9.60,0a4.80,4.80 0 1,0 -9.60,0ZM522.07,553.29a4.80,4.80 0 1,0 9.60,0a4.80,4.80 0 1,0 -9.60,0ZM531.10,553.29a4.80,4.80 0 1,0 9.60,0a4.80,4.80 0 1,0 -9.60,0Z" fill="#5e81b5"/>
<path d="M88.77,522.68h9.12v9.00h-9.12ZM97.80,499.97h9.12v9.00h-9.12ZM106.84,505.54h9.12v9.00h-9.12ZM115.87,590.38h9.12v9.00h-9.12ZM124.90,603.66h9.12v9.00h-9.12ZM133.93,603.66h9.12v9.00h-9.12ZM142.96,520.96h9.12v9.00h-9.12ZM152.00,585.24h9.12v9.00h-9.12ZM161.03,595.52h9.12v9.00h-9.12ZM170.06,484.54h9.12v9.00h-9.12ZM179.09,581.47h9.12v9.00h-9.12ZM188.12,589.52h9.12v9.00h-9.12ZM197.16,592.78h9.12v9.00h-9.12ZM206.19,496.97h9.12v9.00h-9.12ZM215.22,584.38h9.12v9.00h-9.12ZM224.25,610.52h9.12v9.00h-9.12ZM233.28,489.68h9.12v9.00h-9.12ZM242.32,520.53h9.12v9.00h-9.12ZM251.35,503.82h9.12v9.00h-9.12ZM260.38,498.94h9.12v9.00h-9.12ZM269.41,526.96h9.12v9.00h-9.12ZM278.44,578.98h9.12v9.00h-9.12ZM287.48,586.52h9.12v9.00h-9.12ZM296.51,520.53h9.12v9.00h-9.12ZM305.54,588.67h9.12v9.00h-9.12ZM314.57,529.53h9.12v9.00h-9.12ZM323.60,514.11h9.12v9.00h-9.12ZM332.64,497.99h9.12v9.00h-9.12ZM341.67,589.26h9.12v9.00h-9.12ZM350.70,498.68h9.12v9.00h-9.12ZM368.76,485.83h9.12v9.00h-9.12ZM377.80,610.52h9.12v9.00h-9.12ZM386.83,595.35h9.12v9.00h-9.12ZM395.86,600.41h9.12v9.00h-9.12ZM404.89,604.95h9.12v9.00h-9.12ZM413.92,569.81h9.12v9.00h-9.12ZM422.96,519.25h9.12v9.00h-9.12ZM431.99,512.39h9.12v9.00h-9.12ZM441.02,511.11h9.12v9.00h-9.12ZM450.05,500.39h9.12v9.00h-9.12ZM459.08,579.24h9.12v9.00h-9.12ZM468.12,580.35h9.12v9.00h-9.12ZM477.15,524.39h9.12v9.00h-9.12ZM486.18,578.72h9.12v9.00h-9.12ZM495.21,514.96h9.12v9.00h-9.12ZM504.24,600.92h9.12v9.00h-9.12ZM513.28,515.82h9.12v9.00h-9.12ZM522.31,496.45h9.12v9.00h-9.12ZM531.34,603.23h9.12v9.00h-9.12Z" fill="#e19c24"/>
</g>
<line x1="84.7" y1="150.10" x2="87.30" y2="150.10" stroke="#929292" stroke-width="1"/>
<line x1="542.40" y1="150.10" x2="545" y2="150.10" stroke="#929292" stroke-width="1"/>
<line x1="84.7" y1="143.90" x2="87.30" y2="143.90" stroke="#929292" stroke-width="1"/>
<line x1="542.40" y1="143.90" x2="545" y2="143.90" stroke="#929292" stroke-width="1"/>
<line x1="84.7" y1="137.70" x2="89.20" y2="137.70" stroke="#bcbcbc" stroke-width="1"/>
<line x1="540.50" y1="137.70" x2="545" y2="137.70" stroke="#bcbcbc" stroke-width="1"/>
<line x1="84.7" y1="131.50" x2="87.30" y2="131.50" stroke="#929292" stroke-width="1"/>
<line x1="542.40" y1="131.50" x2="545" y2="131.50" stroke="#929292" stroke-width="1"/>
<line x1="84.7" y1="125.30" x2="87.30" y2="125.30" stroke="#929292" stroke-width="1"/>
<line x1="542.40" y1="125.30" x2="545" y2="125.30" stroke="#929292" stroke-width="1"/>
<line x1="84.7" y1="119.10" x2="87.30" y2="119.10" stroke="#929292" stroke-width="1"/>
<line x1="542.40" y1="119.10" x2="545" y2="119.10" stroke="#929292" stroke-width="1"/>
<line x1="84.7" y1="112.90" x2="87.30" y2="112.90" stroke="#929292" stroke-width="1"/>
<line x1="542.40" y1="112.90" x2="545" y2="112.90" stroke="#929292" stroke-width="1"/>
<line x1="84.7" y1="106.70" x2="89.20" y2="106.70" stroke="#bcbcbc" stroke-width="1"/>
<line x1="540.50" y1="106.70" x2="545" y2="106.70" stroke="#bcbcbc" stroke-width="1"/>
<line x1="84.7" y1="100.50" x2="87.30" y2="100.50" stroke="#929292" stroke-width="1"/>
<line x1="542.40" y1="100.50" x2="545" y2="100.50" stroke="#929292" stroke-width="1"/>
<line x1="84.7" y1="94.30" x2="87.30" y2="94.30" stroke="#929292" stroke-width="1"/>
<line x1="542.40" y1="94.30" x2="545" y2="94.30" stroke="#929292" stroke-width="1"/>
<line x1="84.7" y1="88.10" x2="87.30" y2="88.10" stroke="#929292" stroke-width="1"/>
<line x1="542.40" y1="88.10" x2="545" y2="88.10" stroke="#929292" stroke-width="1"/>
<line x1="84.7" y1="81.90" x2="87.30" y2="81.90" stroke="#929292" stroke-width="1"/>
<line x1="542.40" y1="81.90" x2="545" y2="81.90" stroke="#929292" stroke-width="1"/>
<line x1="84.7" y1="75.70" x2="89.20" y2="75.70" stroke="#bcbcbc" stroke-width="1"/>
<line x1="540.50" y1="75.70" x2="545" y2="75.70" stroke="#bcbcbc" stroke-width="1"/>
<line x1="84.7" y1="69.50" x2="87.30" y2="69.50" stroke="#929292" stroke-width="1"/>
<line x1="542.40" y1="69.50" x2="545" y2="69.50" stroke="#929292" stroke-width="1"/>
<line x1="84.7" y1="63.30" x2="87.30" y2="63.30" stroke="#929292" stroke-width="1"/>
<line x1="542.40" y1="63.30" x2="545" y2="63.30" stroke="#929292" stroke-width="1"/>
<line x1="84.7" y1="57.10" x2="87.30" y2="57.10" stroke="#929292" stroke-width="1"/>
<line x1="542.40" y1="57.10" x2="545" y2="57.10" stroke="#929292" stroke-width="1"/>
<line x1="84.7" y1="50.90" x2="87.30" y2="50.90" stroke="#929292" stroke-width="1"/>
<line x1="542.40" y1="50.90" x2="545" y2="50.90" stroke="#929292" stroke-width="1"/>
<line x1="84.7" y1="44.70" x2="89.20" y2="44.70" stroke="#bcbcbc" stroke-width="1"/>
<line x1="540.50" y1="44.70" x2="545" y2="44.70" stroke="#bcbcbc" stroke-width="1"/>
<line x1="84.7" y1="38.50" x2="87.30" y2="38.50" stroke="#929292" stroke-width="1"/>
<line x1="542.40" y1="38.50" x2="545" y2="38.50" stroke="#929292" stroke-width="1"/>
<line x1="84.7" y1="32.30" x2="87.30" y2="32.30" stroke="#929292" stroke-width="1"/>
<line x1="542.40" y1="32.30" x2="545" y2="32.30" stroke="#929292" stroke-width="1"/>
<line x1="84.7" y1="26.10" x2="87.30" y2="26.10" stroke="#929292" stroke-width="1"/>
<line x1="542.40" y1="26.10" x2="545" y2="26.10" stroke="#929292" stroke-width="1"/>
<line x1="84.7" y1="19.90" x2="87.30" y2="19.90" stroke="#929292" stroke-width="1"/>
<line x1="542.40" y1="19.90" x2="545" y2="19.90" stroke="#929292" stroke-width="1"/>
<line x1="84.7" y1="13.70" x2="89.20" y2="13.70" stroke="#bcbcbc" stroke-width="1"/>
<line x1="540.50" y1="13.70" x2="545" y2="13.70" stroke="#bcbcbc" stroke-width="1"/>
<line x1="84.7" y1="7.50" x2="87.30" y2="7.50" stroke="#929292" stroke-width="1"/>
<line x1="542.40" y1="7.50" x2="545" y2="7.50" stroke="#929292" stroke-width="1"/>
<line x1="84.7" y1="1.30" x2="87.30" y2="1.30" stroke="#929292" stroke-width="1"/>
<line x1="542.40" y1="1.30" x2="545" y2="1.30" stroke="#929292" stroke-width="1"/>
<line x1="102.29" y1="0.00" x2="102.29" y2="2.40" stroke="#929292" stroke-width="1"/>
<line x1="120.37" y1="0.00" x2="120.37" y2="2.40" stroke="#929292" stroke-width="1"/>
<line x1="138.46" y1="0.00" x2="138.46" y2="2.40" stroke="#929292" stroke-width="1"/>
<line x1="156.54" y1="0.00" x2="156.54" y2="2.40" stroke="#929292" stroke-width="1"/>
<line x1="174.63" y1="0.00" x2="174.63" y2="4.20" stroke="#929292" stroke-width="1"/>
<line x1="192.72" y1="0.00" x2="192.72" y2="2.40" stroke="#929292" stroke-width="1"/>
<line x1="210.80" y1="0.00" x2="210.80" y2="2.40" stroke="#929292" stroke-width="1"/>
<line x1="228.89" y1="0.00" x2="228.89" y2="2.40" stroke="#929292" stroke-width="1"/>
<line x1="246.97" y1="0.00" x2="246.97" y2="2.40" stroke="#929292" stroke-width="1"/>
<line x1="265.06" y1="0.00" x2="265.06" y2="4.20" stroke="#929292" stroke-width="1"/>
<line x1="283.15" y1="0.00" x2="283.15" y2="2.40" stroke="#929292" stroke-width="1"/>
<line x1="301.23" y1="0.00" x2="301.23" y2="2.40" stroke="#929292" stroke-width="1"/>
<line x1="319.32" y1="0.00" x2="319.32" y2="2.40" stroke="#929292" stroke-width="1"/>
<line x1="337.40" y1="0.00" x2="337.40" y2="2.40" stroke="#929292" stroke-width="1"/>
<line x1="355.49" y1="0.00" x2="355.49" y2="4.20" stroke="#929292" stroke-width="1"/>
<line x1="373.58" y1="0.00" x2="373.58" y2="2.40" stroke="#929292" stroke-width="1"/>
<line x1="391.66" y1="0.00" x2="391.66" y2="2.40" stroke="#929292" stroke-width="1"/>
<line x1="409.75" y1="0.00" x2="409.75" y2="2.40" stroke="#929292" stroke-width="1"/>
<line x1="427.83" y1="0.00" x2="427.83" y2="2.40" stroke="#929292" stroke-width="1"/>
<line x1="445.92" y1="0.00" x2="445.92" y2="4.20" stroke="#929292" stroke-width="1"/>
<line x1="464.01" y1="0.00" x2="464.01" y2="2.40" stroke="#929292" stroke-width="1"/>
<line x1="482.09" y1="0.00" x2="482.09" y2="2.40" stroke="#929292" stroke-width="1"/>
<line x1="500.18" y1="0.00" x2="500.18" y2="2.40" stroke="#929292" stroke-width="1"/>
<line x1="518.26" y1="0.00" x2="518.26" y2="2.40" stroke="#929292" stroke-width="1"/>
<line x1="536.35" y1="0.00" x2="536.35" y2="4.20" stroke="#929292" stroke-width="1"/>
<text transform="translate(80.1,21.00) scale(0.955,1)" class="tl" text-anchor="end">1.0</text>
<text transform="translate(80.1,52.00) scale(0.955,1)" class="tl" text-anchor="end">0.5</text>
<text transform="translate(80.1,83.00) scale(0.955,1)" class="tl" text-anchor="end">0.0</text>
<text transform="translate(80.1,114.00) scale(0.955,1)" class="tl" text-anchor="end">−0.5</text>
<text transform="translate(80.1,145.00) scale(0.955,1)" class="tl" text-anchor="end">−1.0</text>
<line x1="84.7" y1="302.40" x2="87.30" y2="302.40" stroke="#929292" stroke-width="1"/>
<line x1="542.40" y1="302.40" x2="545" y2="302.40" stroke="#929292" stroke-width="1"/>
<line x1="84.7" y1="296.20" x2="87.30" y2="296.20" stroke="#929292" stroke-width="1"/>
<line x1="542.40" y1="296.20" x2="545" y2="296.20" stroke="#929292" stroke-width="1"/>
<line x1="84.7" y1="290.00" x2="89.20" y2="290.00" stroke="#bcbcbc" stroke-width="1"/>
<line x1="540.50" y1="290.00" x2="545" y2="290.00" stroke="#bcbcbc" stroke-width="1"/>
<line x1="84.7" y1="283.80" x2="87.30" y2="283.80" stroke="#929292" stroke-width="1"/>
<line x1="542.40" y1="283.80" x2="545" y2="283.80" stroke="#929292" stroke-width="1"/>
<line x1="84.7" y1="277.60" x2="87.30" y2="277.60" stroke="#929292" stroke-width="1"/>
<line x1="542.40" y1="277.60" x2="545" y2="277.60" stroke="#929292" stroke-width="1"/>
<line x1="84.7" y1="271.40" x2="87.30" y2="271.40" stroke="#929292" stroke-width="1"/>
<line x1="542.40" y1="271.40" x2="545" y2="271.40" stroke="#929292" stroke-width="1"/>
<line x1="84.7" y1="265.20" x2="87.30" y2="265.20" stroke="#929292" stroke-width="1"/>
<line x1="542.40" y1="265.20" x2="545" y2="265.20" stroke="#929292" stroke-width="1"/>
<line x1="84.7" y1="259.00" x2="89.20" y2="259.00" stroke="#bcbcbc" stroke-width="1"/>
<line x1="540.50" y1="259.00" x2="545" y2="259.00" stroke="#bcbcbc" stroke-width="1"/>
<line x1="84.7" y1="252.80" x2="87.30" y2="252.80" stroke="#929292" stroke-width="1"/>
<line x1="542.40" y1="252.80" x2="545" y2="252.80" stroke="#929292" stroke-width="1"/>
<line x1="84.7" y1="246.60" x2="87.30" y2="246.60" stroke="#929292" stroke-width="1"/>
<line x1="542.40" y1="246.60" x2="545" y2="246.60" stroke="#929292" stroke-width="1"/>
<line x1="84.7" y1="240.40" x2="87.30" y2="240.40" stroke="#929292" stroke-width="1"/>
<line x1="542.40" y1="240.40" x2="545" y2="240.40" stroke="#929292" stroke-width="1"/>
<line x1="84.7" y1="234.20" x2="87.30" y2="234.20" stroke="#929292" stroke-width="1"/>
<line x1="542.40" y1="234.20" x2="545" y2="234.20" stroke="#929292" stroke-width="1"/>
<line x1="84.7" y1="228.00" x2="89.20" y2="228.00" stroke="#bcbcbc" stroke-width="1"/>
<line x1="540.50" y1="228.00" x2="545" y2="228.00" stroke="#bcbcbc" stroke-width="1"/>
<line x1="84.7" y1="221.80" x2="87.30" y2="221.80" stroke="#929292" stroke-width="1"/>
<line x1="542.40" y1="221.80" x2="545" y2="221.80" stroke="#929292" stroke-width="1"/>
<line x1="84.7" y1="215.60" x2="87.30" y2="215.60" stroke="#929292" stroke-width="1"/>
<line x1="542.40" y1="215.60" x2="545" y2="215.60" stroke="#929292" stroke-width="1"/>
<line x1="84.7" y1="209.40" x2="87.30" y2="209.40" stroke="#929292" stroke-width="1"/>
<line x1="542.40" y1="209.40" x2="545" y2="209.40" stroke="#929292" stroke-width="1"/>
<line x1="84.7" y1="203.20" x2="87.30" y2="203.20" stroke="#929292" stroke-width="1"/>
<line x1="542.40" y1="203.20" x2="545" y2="203.20" stroke="#929292" stroke-width="1"/>
<line x1="84.7" y1="197.00" x2="89.20" y2="197.00" stroke="#bcbcbc" stroke-width="1"/>
<line x1="540.50" y1="197.00" x2="545" y2="197.00" stroke="#bcbcbc" stroke-width="1"/>
<line x1="84.7" y1="190.80" x2="87.30" y2="190.80" stroke="#929292" stroke-width="1"/>
<line x1="542.40" y1="190.80" x2="545" y2="190.80" stroke="#929292" stroke-width="1"/>
<line x1="84.7" y1="184.60" x2="87.30" y2="184.60" stroke="#929292" stroke-width="1"/>
<line x1="542.40" y1="184.60" x2="545" y2="184.60" stroke="#929292" stroke-width="1"/>
<line x1="84.7" y1="178.40" x2="87.30" y2="178.40" stroke="#929292" stroke-width="1"/>
<line x1="542.40" y1="178.40" x2="545" y2="178.40" stroke="#929292" stroke-width="1"/>
<line x1="84.7" y1="172.20" x2="87.30" y2="172.20" stroke="#929292" stroke-width="1"/>
<line x1="542.40" y1="172.20" x2="545" y2="172.20" stroke="#929292" stroke-width="1"/>
<line x1="84.7" y1="166.00" x2="89.20" y2="166.00" stroke="#bcbcbc" stroke-width="1"/>
<line x1="540.50" y1="166.00" x2="545" y2="166.00" stroke="#bcbcbc" stroke-width="1"/>
<line x1="84.7" y1="159.80" x2="87.30" y2="159.80" stroke="#929292" stroke-width="1"/>
<line x1="542.40" y1="159.80" x2="545" y2="159.80" stroke="#929292" stroke-width="1"/>
<line x1="84.7" y1="153.60" x2="87.30" y2="153.60" stroke="#929292" stroke-width="1"/>
<line x1="542.40" y1="153.60" x2="545" y2="153.60" stroke="#929292" stroke-width="1"/>
<line x1="102.29" y1="152.30" x2="102.29" y2="154.70" stroke="#929292" stroke-width="1"/>
<line x1="120.37" y1="152.30" x2="120.37" y2="154.70" stroke="#929292" stroke-width="1"/>
<line x1="138.46" y1="152.30" x2="138.46" y2="154.70" stroke="#929292" stroke-width="1"/>
<line x1="156.54" y1="152.30" x2="156.54" y2="154.70" stroke="#929292" stroke-width="1"/>
<line x1="174.63" y1="152.30" x2="174.63" y2="156.50" stroke="#929292" stroke-width="1"/>
<line x1="192.72" y1="152.30" x2="192.72" y2="154.70" stroke="#929292" stroke-width="1"/>
<line x1="210.80" y1="152.30" x2="210.80" y2="154.70" stroke="#929292" stroke-width="1"/>
<line x1="228.89" y1="152.30" x2="228.89" y2="154.70" stroke="#929292" stroke-width="1"/>
<line x1="246.97" y1="152.30" x2="246.97" y2="154.70" stroke="#929292" stroke-width="1"/>
<line x1="265.06" y1="152.30" x2="265.06" y2="156.50" stroke="#929292" stroke-width="1"/>
<line x1="283.15" y1="152.30" x2="283.15" y2="154.70" stroke="#929292" stroke-width="1"/>
<line x1="301.23" y1="152.30" x2="301.23" y2="154.70" stroke="#929292" stroke-width="1"/>
<line x1="319.32" y1="152.30" x2="319.32" y2="154.70" stroke="#929292" stroke-width="1"/>
<line x1="337.40" y1="152.30" x2="337.40" y2="154.70" stroke="#929292" stroke-width="1"/>
<line x1="355.49" y1="152.30" x2="355.49" y2="156.50" stroke="#929292" stroke-width="1"/>
<line x1="373.58" y1="152.30" x2="373.58" y2="154.70" stroke="#929292" stroke-width="1"/>
<line x1="391.66" y1="152.30" x2="391.66" y2="154.70" stroke="#929292" stroke-width="1"/>
<line x1="409.75" y1="152.30" x2="409.75" y2="154.70" stroke="#929292" stroke-width="1"/>
<line x1="427.83" y1="152.30" x2="427.83" y2="154.70" stroke="#929292" stroke-width="1"/>
<line x1="445.92" y1="152.30" x2="445.92" y2="156.50" stroke="#929292" stroke-width="1"/>
<line x1="464.01" y1="152.30" x2="464.01" y2="154.70" stroke="#929292" stroke-width="1"/>
<line x1="482.09" y1="152.30" x2="482.09" y2="154.70" stroke="#929292" stroke-width="1"/>
<line x1="500.18" y1="152.30" x2="500.18" y2="154.70" stroke="#929292" stroke-width="1"/>
<line x1="518.26" y1="152.30" x2="518.26" y2="154.70" stroke="#929292" stroke-width="1"/>
<line x1="536.35" y1="152.30" x2="536.35" y2="156.50" stroke="#929292" stroke-width="1"/>
<text transform="translate(80.1,173.30) scale(0.955,1)" class="tl" text-anchor="end">1.0</text>
<text transform="translate(80.1,204.30) scale(0.955,1)" class="tl" text-anchor="end">0.5</text>
<text transform="translate(80.1,235.30) scale(0.955,1)" class="tl" text-anchor="end">0.0</text>
<text transform="translate(80.1,266.30) scale(0.955,1)" class="tl" text-anchor="end">−0.5</text>
<text transform="translate(80.1,297.30) scale(0.955,1)" class="tl" text-anchor="end">−1.0</text>
<line x1="84.7" y1="453.56" x2="87.30" y2="453.56" stroke="#929292" stroke-width="1"/>
<line x1="542.40" y1="453.56" x2="545" y2="453.56" stroke="#929292" stroke-width="1"/>
<line x1="84.7" y1="445.00" x2="89.20" y2="445.00" stroke="#bcbcbc" stroke-width="1"/>
<line x1="540.50" y1="445.00" x2="545" y2="445.00" stroke="#bcbcbc" stroke-width="1"/>
<line x1="84.7" y1="436.44" x2="87.30" y2="436.44" stroke="#929292" stroke-width="1"/>
<line x1="542.40" y1="436.44" x2="545" y2="436.44" stroke="#929292" stroke-width="1"/>
<line x1="84.7" y1="427.88" x2="87.30" y2="427.88" stroke="#929292" stroke-width="1"/>
<line x1="542.40" y1="427.88" x2="545" y2="427.88" stroke="#929292" stroke-width="1"/>
<line x1="84.7" y1="419.32" x2="87.30" y2="419.32" stroke="#929292" stroke-width="1"/>
<line x1="542.40" y1="419.32" x2="545" y2="419.32" stroke="#929292" stroke-width="1"/>
<line x1="84.7" y1="410.76" x2="87.30" y2="410.76" stroke="#929292" stroke-width="1"/>
<line x1="542.40" y1="410.76" x2="545" y2="410.76" stroke="#929292" stroke-width="1"/>
<line x1="84.7" y1="402.20" x2="89.20" y2="402.20" stroke="#bcbcbc" stroke-width="1"/>
<line x1="540.50" y1="402.20" x2="545" y2="402.20" stroke="#bcbcbc" stroke-width="1"/>
<line x1="84.7" y1="393.64" x2="87.30" y2="393.64" stroke="#929292" stroke-width="1"/>
<line x1="542.40" y1="393.64" x2="545" y2="393.64" stroke="#929292" stroke-width="1"/>
<line x1="84.7" y1="385.08" x2="87.30" y2="385.08" stroke="#929292" stroke-width="1"/>
<line x1="542.40" y1="385.08" x2="545" y2="385.08" stroke="#929292" stroke-width="1"/>
<line x1="84.7" y1="376.52" x2="87.30" y2="376.52" stroke="#929292" stroke-width="1"/>
<line x1="542.40" y1="376.52" x2="545" y2="376.52" stroke="#929292" stroke-width="1"/>
<line x1="84.7" y1="367.96" x2="87.30" y2="367.96" stroke="#929292" stroke-width="1"/>
<line x1="542.40" y1="367.96" x2="545" y2="367.96" stroke="#929292" stroke-width="1"/>
<line x1="84.7" y1="359.40" x2="89.20" y2="359.40" stroke="#bcbcbc" stroke-width="1"/>
<line x1="540.50" y1="359.40" x2="545" y2="359.40" stroke="#bcbcbc" stroke-width="1"/>
<line x1="84.7" y1="350.84" x2="87.30" y2="350.84" stroke="#929292" stroke-width="1"/>
<line x1="542.40" y1="350.84" x2="545" y2="350.84" stroke="#929292" stroke-width="1"/>
<line x1="84.7" y1="342.28" x2="87.30" y2="342.28" stroke="#929292" stroke-width="1"/>
<line x1="542.40" y1="342.28" x2="545" y2="342.28" stroke="#929292" stroke-width="1"/>
<line x1="84.7" y1="333.72" x2="87.30" y2="333.72" stroke="#929292" stroke-width="1"/>
<line x1="542.40" y1="333.72" x2="545" y2="333.72" stroke="#929292" stroke-width="1"/>
<line x1="84.7" y1="325.16" x2="87.30" y2="325.16" stroke="#929292" stroke-width="1"/>
<line x1="542.40" y1="325.16" x2="545" y2="325.16" stroke="#929292" stroke-width="1"/>
<line x1="84.7" y1="316.60" x2="89.20" y2="316.60" stroke="#bcbcbc" stroke-width="1"/>
<line x1="540.50" y1="316.60" x2="545" y2="316.60" stroke="#bcbcbc" stroke-width="1"/>
<line x1="84.7" y1="308.04" x2="87.30" y2="308.04" stroke="#929292" stroke-width="1"/>
<line x1="542.40" y1="308.04" x2="545" y2="308.04" stroke="#929292" stroke-width="1"/>
<line x1="102.29" y1="304.60" x2="102.29" y2="307.00" stroke="#929292" stroke-width="1"/>
<line x1="120.37" y1="304.60" x2="120.37" y2="307.00" stroke="#929292" stroke-width="1"/>
<line x1="138.46" y1="304.60" x2="138.46" y2="307.00" stroke="#929292" stroke-width="1"/>
<line x1="156.54" y1="304.60" x2="156.54" y2="307.00" stroke="#929292" stroke-width="1"/>
<line x1="174.63" y1="304.60" x2="174.63" y2="308.80" stroke="#929292" stroke-width="1"/>
<line x1="192.72" y1="304.60" x2="192.72" y2="307.00" stroke="#929292" stroke-width="1"/>
<line x1="210.80" y1="304.60" x2="210.80" y2="307.00" stroke="#929292" stroke-width="1"/>
<line x1="228.89" y1="304.60" x2="228.89" y2="307.00" stroke="#929292" stroke-width="1"/>
<line x1="246.97" y1="304.60" x2="246.97" y2="307.00" stroke="#929292" stroke-width="1"/>
<line x1="265.06" y1="304.60" x2="265.06" y2="308.80" stroke="#929292" stroke-width="1"/>
<line x1="283.15" y1="304.60" x2="283.15" y2="307.00" stroke="#929292" stroke-width="1"/>
<line x1="301.23" y1="304.60" x2="301.23" y2="307.00" stroke="#929292" stroke-width="1"/>
<line x1="319.32" y1="304.60" x2="319.32" y2="307.00" stroke="#929292" stroke-width="1"/>
<line x1="337.40" y1="304.60" x2="337.40" y2="307.00" stroke="#929292" stroke-width="1"/>
<line x1="355.49" y1="304.60" x2="355.49" y2="308.80" stroke="#929292" stroke-width="1"/>
<line x1="373.58" y1="304.60" x2="373.58" y2="307.00" stroke="#929292" stroke-width="1"/>
<line x1="391.66" y1="304.60" x2="391.66" y2="307.00" stroke="#929292" stroke-width="1"/>
<line x1="409.75" y1="304.60" x2="409.75" y2="307.00" stroke="#929292" stroke-width="1"/>
<line x1="427.83" y1="304.60" x2="427.83" y2="307.00" stroke="#929292" stroke-width="1"/>
<line x1="445.92" y1="304.60" x2="445.92" y2="308.80" stroke="#929292" stroke-width="1"/>
<line x1="464.01" y1="304.60" x2="464.01" y2="307.00" stroke="#929292" stroke-width="1"/>
<line x1="482.09" y1="304.60" x2="482.09" y2="307.00" stroke="#929292" stroke-width="1"/>
<line x1="500.18" y1="304.60" x2="500.18" y2="307.00" stroke="#929292" stroke-width="1"/>
<line x1="518.26" y1="304.60" x2="518.26" y2="307.00" stroke="#929292" stroke-width="1"/>
<line x1="536.35" y1="304.60" x2="536.35" y2="308.80" stroke="#929292" stroke-width="1"/>
<text transform="translate(80.1,323.90) scale(0.955,1)" class="tl" text-anchor="end">1.5</text>
<text transform="translate(80.1,366.70) scale(0.955,1)" class="tl" text-anchor="end">1.0</text>
<text transform="translate(80.1,409.50) scale(0.955,1)" class="tl" text-anchor="end">0.5</text>
<text transform="translate(80.1,452.30) scale(0.955,1)" class="tl" text-anchor="end">0.0</text>
<line x1="84.7" y1="605.57" x2="87.30" y2="605.57" stroke="#929292" stroke-width="1"/>
<line x1="542.40" y1="605.57" x2="545" y2="605.57" stroke="#929292" stroke-width="1"/>
<line x1="84.7" y1="597.00" x2="89.20" y2="597.00" stroke="#bcbcbc" stroke-width="1"/>
<line x1="540.50" y1="597.00" x2="545" y2="597.00" stroke="#bcbcbc" stroke-width="1"/>
<line x1="84.7" y1="588.43" x2="87.30" y2="588.43" stroke="#929292" stroke-width="1"/>
<line x1="542.40" y1="588.43" x2="545" y2="588.43" stroke="#929292" stroke-width="1"/>
<line x1="84.7" y1="579.86" x2="87.30" y2="579.86" stroke="#929292" stroke-width="1"/>
<line x1="542.40" y1="579.86" x2="545" y2="579.86" stroke="#929292" stroke-width="1"/>
<line x1="84.7" y1="571.29" x2="87.30" y2="571.29" stroke="#929292" stroke-width="1"/>
<line x1="542.40" y1="571.29" x2="545" y2="571.29" stroke="#929292" stroke-width="1"/>
<line x1="84.7" y1="562.72" x2="87.30" y2="562.72" stroke="#929292" stroke-width="1"/>
<line x1="542.40" y1="562.72" x2="545" y2="562.72" stroke="#929292" stroke-width="1"/>
<line x1="84.7" y1="554.15" x2="89.20" y2="554.15" stroke="#bcbcbc" stroke-width="1"/>
<line x1="540.50" y1="554.15" x2="545" y2="554.15" stroke="#bcbcbc" stroke-width="1"/>
<line x1="84.7" y1="545.58" x2="87.30" y2="545.58" stroke="#929292" stroke-width="1"/>
<line x1="542.40" y1="545.58" x2="545" y2="545.58" stroke="#929292" stroke-width="1"/>
<line x1="84.7" y1="537.01" x2="87.30" y2="537.01" stroke="#929292" stroke-width="1"/>
<line x1="542.40" y1="537.01" x2="545" y2="537.01" stroke="#929292" stroke-width="1"/>
<line x1="84.7" y1="528.44" x2="87.30" y2="528.44" stroke="#929292" stroke-width="1"/>
<line x1="542.40" y1="528.44" x2="545" y2="528.44" stroke="#929292" stroke-width="1"/>
<line x1="84.7" y1="519.87" x2="87.30" y2="519.87" stroke="#929292" stroke-width="1"/>
<line x1="542.40" y1="519.87" x2="545" y2="519.87" stroke="#929292" stroke-width="1"/>
<line x1="84.7" y1="511.30" x2="89.20" y2="511.30" stroke="#bcbcbc" stroke-width="1"/>
<line x1="540.50" y1="511.30" x2="545" y2="511.30" stroke="#bcbcbc" stroke-width="1"/>
<line x1="84.7" y1="502.73" x2="87.30" y2="502.73" stroke="#929292" stroke-width="1"/>
<line x1="542.40" y1="502.73" x2="545" y2="502.73" stroke="#929292" stroke-width="1"/>
<line x1="84.7" y1="494.16" x2="87.30" y2="494.16" stroke="#929292" stroke-width="1"/>
<line x1="542.40" y1="494.16" x2="545" y2="494.16" stroke="#929292" stroke-width="1"/>
<line x1="84.7" y1="485.59" x2="87.30" y2="485.59" stroke="#929292" stroke-width="1"/>
<line x1="542.40" y1="485.59" x2="545" y2="485.59" stroke="#929292" stroke-width="1"/>
<line x1="84.7" y1="477.02" x2="87.30" y2="477.02" stroke="#929292" stroke-width="1"/>
<line x1="542.40" y1="477.02" x2="545" y2="477.02" stroke="#929292" stroke-width="1"/>
<line x1="84.7" y1="468.45" x2="89.20" y2="468.45" stroke="#bcbcbc" stroke-width="1"/>
<line x1="540.50" y1="468.45" x2="545" y2="468.45" stroke="#bcbcbc" stroke-width="1"/>
<line x1="84.7" y1="459.88" x2="87.30" y2="459.88" stroke="#929292" stroke-width="1"/>
<line x1="542.40" y1="459.88" x2="545" y2="459.88" stroke="#929292" stroke-width="1"/>
<line x1="102.29" y1="456.30" x2="102.29" y2="458.70" stroke="#929292" stroke-width="1"/>
<line x1="102.29" y1="608.40" x2="102.29" y2="606.00" stroke="#929292" stroke-width="1"/>
<line x1="120.37" y1="456.30" x2="120.37" y2="458.70" stroke="#929292" stroke-width="1"/>
<line x1="120.37" y1="608.40" x2="120.37" y2="606.00" stroke="#929292" stroke-width="1"/>
<line x1="138.46" y1="456.30" x2="138.46" y2="458.70" stroke="#929292" stroke-width="1"/>
<line x1="138.46" y1="608.40" x2="138.46" y2="606.00" stroke="#929292" stroke-width="1"/>
<line x1="156.54" y1="456.30" x2="156.54" y2="458.70" stroke="#929292" stroke-width="1"/>
<line x1="156.54" y1="608.40" x2="156.54" y2="606.00" stroke="#929292" stroke-width="1"/>
<line x1="174.63" y1="456.30" x2="174.63" y2="460.50" stroke="#929292" stroke-width="1"/>
<line x1="174.63" y1="608.40" x2="174.63" y2="604.20" stroke="#929292" stroke-width="1"/>
<line x1="192.72" y1="456.30" x2="192.72" y2="458.70" stroke="#929292" stroke-width="1"/>
<line x1="192.72" y1="608.40" x2="192.72" y2="606.00" stroke="#929292" stroke-width="1"/>
<line x1="210.80" y1="456.30" x2="210.80" y2="458.70" stroke="#929292" stroke-width="1"/>
<line x1="210.80" y1="608.40" x2="210.80" y2="606.00" stroke="#929292" stroke-width="1"/>
<line x1="228.89" y1="456.30" x2="228.89" y2="458.70" stroke="#929292" stroke-width="1"/>
<line x1="228.89" y1="608.40" x2="228.89" y2="606.00" stroke="#929292" stroke-width="1"/>
<line x1="246.97" y1="456.30" x2="246.97" y2="458.70" stroke="#929292" stroke-width="1"/>
<line x1="246.97" y1="608.40" x2="246.97" y2="606.00" stroke="#929292" stroke-width="1"/>
<line x1="265.06" y1="456.30" x2="265.06" y2="460.50" stroke="#929292" stroke-width="1"/>
<line x1="265.06" y1="608.40" x2="265.06" y2="604.20" stroke="#929292" stroke-width="1"/>
<line x1="283.15" y1="456.30" x2="283.15" y2="458.70" stroke="#929292" stroke-width="1"/>
<line x1="283.15" y1="608.40" x2="283.15" y2="606.00" stroke="#929292" stroke-width="1"/>
<line x1="301.23" y1="456.30" x2="301.23" y2="458.70" stroke="#929292" stroke-width="1"/>
<line x1="301.23" y1="608.40" x2="301.23" y2="606.00" stroke="#929292" stroke-width="1"/>
<line x1="319.32" y1="456.30" x2="319.32" y2="458.70" stroke="#929292" stroke-width="1"/>
<line x1="319.32" y1="608.40" x2="319.32" y2="606.00" stroke="#929292" stroke-width="1"/>
<line x1="337.40" y1="456.30" x2="337.40" y2="458.70" stroke="#929292" stroke-width="1"/>
<line x1="337.40" y1="608.40" x2="337.40" y2="606.00" stroke="#929292" stroke-width="1"/>
<line x1="355.49" y1="456.30" x2="355.49" y2="460.50" stroke="#929292" stroke-width="1"/>
<line x1="355.49" y1="608.40" x2="355.49" y2="604.20" stroke="#929292" stroke-width="1"/>
<line x1="373.58" y1="456.30" x2="373.58" y2="458.70" stroke="#929292" stroke-width="1"/>
<line x1="373.58" y1="608.40" x2="373.58" y2="606.00" stroke="#929292" stroke-width="1"/>
<line x1="391.66" y1="456.30" x2="391.66" y2="458.70" stroke="#929292" stroke-width="1"/>
<line x1="391.66" y1="608.40" x2="391.66" y2="606.00" stroke="#929292" stroke-width="1"/>
<line x1="409.75" y1="456.30" x2="409.75" y2="458.70" stroke="#929292" stroke-width="1"/>
<line x1="409.75" y1="608.40" x2="409.75" y2="606.00" stroke="#929292" stroke-width="1"/>
<line x1="427.83" y1="456.30" x2="427.83" y2="458.70" stroke="#929292" stroke-width="1"/>
<line x1="427.83" y1="608.40" x2="427.83" y2="606.00" stroke="#929292" stroke-width="1"/>
<line x1="445.92" y1="456.30" x2="445.92" y2="460.50" stroke="#929292" stroke-width="1"/>
<line x1="445.92" y1="608.40" x2="445.92" y2="604.20" stroke="#929292" stroke-width="1"/>
<line x1="464.01" y1="456.30" x2="464.01" y2="458.70" stroke="#929292" stroke-width="1"/>
<line x1="464.01" y1="608.40" x2="464.01" y2="606.00" stroke="#929292" stroke-width="1"/>
<line x1="482.09" y1="456.30" x2="482.09" y2="458.70" stroke="#929292" stroke-width="1"/>
<line x1="482.09" y1="608.40" x2="482.09" y2="606.00" stroke="#929292" stroke-width="1"/>
<line x1="500.18" y1="456.30" x2="500.18" y2="458.70" stroke="#929292" stroke-width="1"/>
<line x1="500.18" y1="608.40" x2="500.18" y2="606.00" stroke="#929292" stroke-width="1"/>
<line x1="518.26" y1="456.30" x2="518.26" y2="458.70" stroke="#929292" stroke-width="1"/>
<line x1="518.26" y1="608.40" x2="518.26" y2="606.00" stroke="#929292" stroke-width="1"/>
<line x1="536.35" y1="456.30" x2="536.35" y2="460.50" stroke="#929292" stroke-width="1"/>
<line x1="536.35" y1="608.40" x2="536.35" y2="604.20" stroke="#929292" stroke-width="1"/>
<text transform="translate(80.1,475.75) scale(0.955,1)" class="tl" text-anchor="end">1.5</text>
<text transform="translate(80.1,518.60) scale(0.955,1)" class="tl" text-anchor="end">1.0</text>
<text transform="translate(80.1,561.45) scale(0.955,1)" class="tl" text-anchor="end">0.5</text>
<text transform="translate(80.1,604.30) scale(0.955,1)" class="tl" text-anchor="end">0.0</text>
<line x1="84.2" y1="0.50" x2="545.5" y2="0.50" stroke="#929292" stroke-width="1"/>
<line x1="84.2" y1="152.50" x2="545.5" y2="152.50" stroke="#a0a0a0" stroke-width="1"/>
<line x1="84.2" y1="304.90" x2="545.5" y2="304.90" stroke="#9a9a9a" stroke-width="1"/>
<line x1="84.2" y1="456.50" x2="545.5" y2="456.50" stroke="#b8b8b8" stroke-width="1"/>
<line x1="84.2" y1="608.50" x2="545.5" y2="608.50" stroke="#b0b0b0" stroke-width="1"/>
<line x1="84.7" y1="0" x2="84.7" y2="608.9" stroke="#929292" stroke-width="1"/>
<line x1="545" y1="0" x2="545" y2="608.9" stroke="#929292" stroke-width="1"/>
<text transform="translate(122.10,33.50) scale(0.880,1.020)" class="pl" style="font-size:31px">a</text>
<text transform="translate(121.50,185.40) scale(1.000,1.000)" class="pl" style="font-size:30px">b</text>
<text transform="translate(122.00,337.50) scale(1.000,1.000)" class="pl" style="font-size:31px">c</text>
<text transform="translate(121.20,489.60) scale(1.000,1.000)" class="pl" style="font-size:30px">d</text>
<text transform="translate(175.23,634.0) scale(0.955,1)" class="tl" text-anchor="middle">10</text>
<text transform="translate(265.66,634.0) scale(0.955,1)" class="tl" text-anchor="middle">20</text>
<text transform="translate(356.09,634.0) scale(0.955,1)" class="tl" text-anchor="middle">30</text>
<text transform="translate(446.52,634.0) scale(0.955,1)" class="tl" text-anchor="middle">40</text>
<text transform="translate(536.95,634.0) scale(0.955,1)" class="tl" text-anchor="middle">50</text>
<text transform="translate(314.8,680.9) scale(0.91,1.156)" style="font-size:28px" text-anchor="middle">t</text>
<text transform="translate(15.3,443.3) rotate(-90)" style="font-size:20px" textLength="205.9" lengthAdjust="spacingAndGlyphs">Target/reservoir output</text>
<line x1="567.0" y1="34.6" x2="596.0" y2="34.6" stroke="#808080" stroke-width="2.3"/>
<text x="607.2" y="39.9" class="lg"><tspan font-style="italic">P</tspan><tspan font-size="14px" dy="3" dx="-1.2">1</tspan></text>
<circle cx="577.2" cy="78.6" r="4.8" fill="#5e81b5"/>
<text x="598.0" y="82.8" class="lg">|<tspan font-style="italic" font-size="20px">α</tspan>|</text>
<rect x="572.8" y="109.0" width="9" height="9" fill="#e19c24"/>
<text x="598.0" y="117.8" class="lg">arg(<tspan font-style="italic" font-size="20px">α</tspan>)</text>
<line x1="567.0" y1="186.7" x2="596.0" y2="186.7" stroke="#808080" stroke-width="2.3"/>
<text x="607.2" y="192.0" class="lg"><tspan font-style="italic">P</tspan><tspan font-size="14px" dy="3" dx="-1.2">5</tspan></text>
<circle cx="577.2" cy="230.7" r="4.8" fill="#5e81b5"/>
<text x="598.0" y="234.9" class="lg">|<tspan font-style="italic" font-size="20px">α</tspan>|</text>
<rect x="572.8" y="261.1" width="9" height="9" fill="#e19c24"/>
<text x="598.0" y="269.9" class="lg">arg(<tspan font-style="italic" font-size="20px">α</tspan>)</text>
<line x1="567.0" y1="339.2" x2="596.0" y2="339.2" stroke="#808080" stroke-width="2.3"/>
<text x="606.5" y="344.2" class="lg">PC@<tspan font-style="italic">τ</tspan>=1</text>
<circle cx="577.2" cy="383.2" r="4.8" fill="#5e81b5"/>
<text x="598.0" y="387.4" class="lg">Degree 2</text>
<rect x="572.8" y="413.6" width="9" height="9" fill="#e19c24"/>
<text x="598.0" y="422.4" class="lg">Degree 4</text>
<line x1="571.1" y1="529.6" x2="600.1" y2="529.6" stroke="#808080" stroke-width="2.3"/>
<text x="610.6" y="534.6" class="lg">PC@<tspan font-style="italic">τ</tspan>=3</text>
<circle cx="581.3" cy="573.6" r="4.8" fill="#5e81b5"/>
<text x="602.1" y="577.8" class="lg">Degree 2</text>
<rect x="576.9" y="604.0" width="9" height="9" fill="#e19c24"/>
<text x="602.1" y="612.8" class="lg">Degree 4</text>
</svg></body></html>
